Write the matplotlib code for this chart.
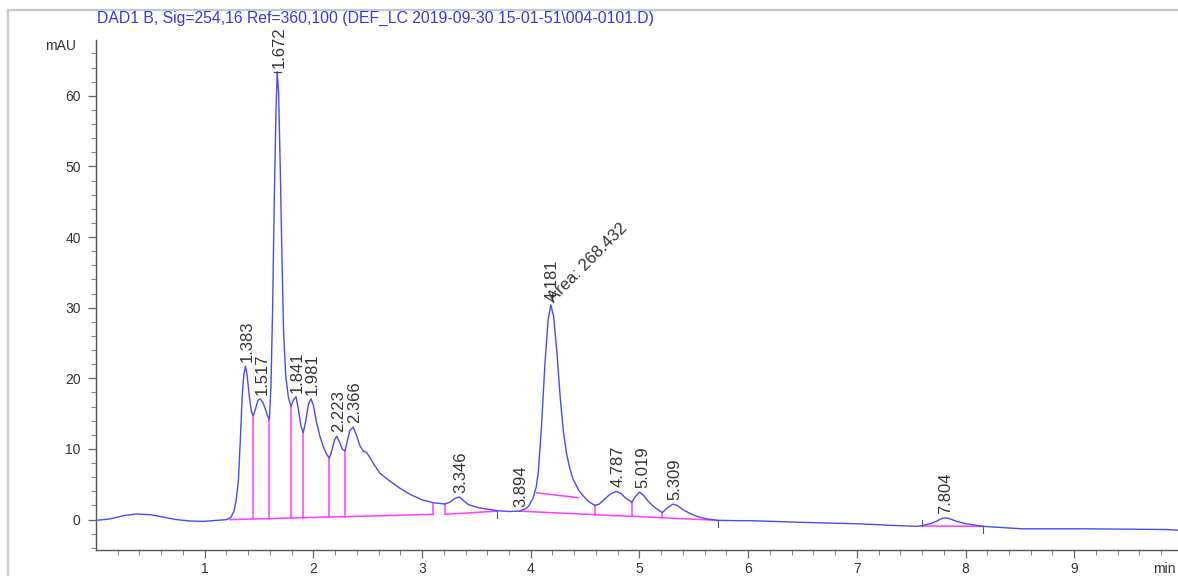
import numpy as np
import matplotlib
matplotlib.use("Agg")
import matplotlib.pyplot as plt
from matplotlib.lines import Line2D

plt.rcParams['font.family'] = ['Liberation Sans', 'DejaVu Sans']

# ---------------- data ----------------
title = "DAD1 B, Sig=254,16 Ref=360,100 (DEF_LC 2019-09-30 15-01-51\\004-0101.D)"

time_min = [0.00, 0.13, 0.25, 0.37, 0.50, 0.62, 0.74, 0.87, 0.99, 1.11, 1.20, 1.24, 1.27, 1.29, 1.31,
            1.33, 1.345, 1.36, 1.375, 1.39, 1.41, 1.43, 1.447, 1.47, 1.49, 1.51, 1.535, 1.555, 1.58,
            1.595, 1.61, 1.625, 1.64, 1.655, 1.667, 1.68, 1.695, 1.71, 1.725, 1.745, 1.77, 1.794,
            1.815, 1.84, 1.86, 1.885, 1.907, 1.93, 1.955, 1.978, 2.00, 2.03, 2.06, 2.09, 2.12, 2.147,
            2.17, 2.195, 2.215, 2.24, 2.265, 2.29, 2.31, 2.335, 2.367, 2.40, 2.43, 2.46, 2.49, 2.52,
            2.55, 2.61, 2.70, 2.80, 2.90, 3.00, 3.10, 3.21, 3.26, 3.30, 3.343, 3.38, 3.43, 3.53,
            3.69, 3.80, 3.894, 3.95, 3.98, 4.02, 4.05, 4.07, 4.10, 4.13, 4.16, 4.185, 4.21, 4.24,
            4.27, 4.30, 4.33, 4.36, 4.39, 4.44, 4.48, 4.53, 4.59, 4.63, 4.68, 4.73, 4.787, 4.83,
            4.87, 4.93, 4.96, 5.00, 5.04, 5.08, 5.12, 5.16, 5.21, 5.26, 5.309, 5.35, 5.40, 5.45,
            5.49, 5.55, 5.62, 5.72, 5.92, 6.02, 6.48, 7.03, 7.30, 7.55, 7.60, 7.68, 7.73, 7.78,
            7.81, 7.85, 7.92, 8.01, 8.16, 8.52, 9.08, 9.50, 9.85, 9.96]
signal_mau = [-0.1, 0.1, 0.55, 0.8, 0.7, 0.35, 0.0, -0.2, -0.25, -0.1, 0.0, 0.3, 1.2, 2.8, 5.5,
              12.0, 17.5, 20.5, 21.7, 20.5, 17.5, 15.3, 14.7, 15.8, 16.9, 17.1, 16.6, 15.8, 14.6,
              14.2, 19.0, 30.0, 45.0, 57.0, 63.4, 60.5, 50.0, 38.0, 27.0, 20.5, 17.3, 16.0,
              16.9, 17.4, 15.8, 13.3, 12.3, 14.0, 16.4, 17.1, 16.2, 13.7, 11.8, 10.4, 9.3, 8.7,
              9.8, 11.3, 11.8, 11.0, 10.0, 9.7, 11.0, 12.6, 13.1, 11.8, 10.4, 9.7, 9.5, 8.8,
              8.0, 6.6, 5.5, 4.4, 3.5, 2.8, 2.4, 2.2, 2.5, 3.0, 3.2, 2.7, 2.1, 1.65,
              1.27, 1.15, 1.2, 1.5, 1.9, 3.0, 4.6, 6.8, 13.5, 22.0, 28.3, 30.4, 28.8, 23.8,
              17.5, 12.5, 9.3, 7.2, 5.7, 4.2, 3.4, 2.6, 2.0, 2.2, 2.9, 3.6, 4.0, 3.7,
              3.1, 2.45, 3.2, 3.9, 3.4, 2.6, 2.0, 1.5, 1.0, 1.7, 2.2, 2.0, 1.4, 1.0,
              0.7, 0.35, 0.1, -0.1, -0.15, -0.15, -0.38, -0.6, -0.8, -0.95, -0.85, -0.55, -0.25, 0.15,
              0.25, 0.15, -0.25, -0.6, -0.95, -1.3, -1.3, -1.35, -1.4, -1.5]

peak_labels = ["1.383", "1.517", "1.672", "1.841", "1.981", "2.223", "2.366", "3.346",
               "3.894", "4.181", "4.787", "5.019", "5.309", "7.804"]
peak_times = [1.383, 1.517, 1.672, 1.841, 1.981, 2.223, 2.366, 3.346,
              3.894, 4.181, 4.787, 5.019, 5.309, 7.804]
peak_heights = [21.7, 17.1, 63.4, 17.4, 17.1, 11.8, 13.1, 3.2,
                1.2, 30.4, 4.0, 3.9, 2.2, 0.25]
area_label = "Area: 268.432"

# integration baselines (start time, start mAU, end time, end mAU)
baseline_t0 = [1.23, 3.21, 3.894, 7.60]
baseline_y0 = [0.0, 0.75, 1.2, -0.9]
baseline_t1 = [3.10, 3.69, 5.72, 8.16]
baseline_y1 = [0.75, 1.2, -0.1, -0.95]
# tangent baseline used for the 4.181 area peak
area_base_t = [4.054, 4.44]
area_base_y = [3.8, 3.1]
# drop lines (time, index of baseline)
drop_times = [1.447, 1.595, 1.794, 1.907, 2.147, 2.29, 3.10, 3.21, 4.59, 4.93, 5.21]
drop_base = [0, 0, 0, 0, 0, 0, 0, 1, 2, 2, 2]
# small tick marks at baseline ends (time, mAU, direction)
end_tick_t = [3.69, 5.72, 7.60, 8.16]
end_tick_y = [1.2, -0.1, -0.9, -0.95]
end_tick_dir = [-1, -1, 1, -1]

y_major = [0, 10, 20, 30, 40, 50, 60]
x_major = [1, 2, 3, 4, 5, 6, 7, 8, 9]

# ---------------- figure ----------------
W, H = 1178, 576
fig = plt.figure(figsize=(W / 100, H / 100), dpi=100)
ax = fig.add_axes([96 / W, 1 - 550 / H, (W - 96) / W, 510 / H])
ax.set_xlim(0, 9.955)
ax.set_ylim(-4.3, 67.9)

blue = '#4a4af2'
magenta = '#ff3cff'
txtc = '#333333'

t = np.array(time_min)
s = np.array(signal_mau)

# baselines
for i in range(len(baseline_t0)):
    ax.plot([baseline_t0[i], baseline_t1[i]], [baseline_y0[i], baseline_y1[i]],
            color=magenta, lw=1.1, zorder=2)
ax.plot(area_base_t, area_base_y, color=magenta, lw=1.1, zorder=2)

for dt, bi in zip(drop_times, drop_base):
    yb = np.interp(dt, [baseline_t0[bi], baseline_t1[bi]], [baseline_y0[bi], baseline_y1[bi]])
    yt = np.interp(dt, t, s)
    ax.plot([dt, dt], [yb, yt], color=magenta, lw=1.1, zorder=2)

for et, ey, ed in zip(end_tick_t, end_tick_y, end_tick_dir):
    ax.plot([et, et], [ey, ey + ed * 0.9], color='#555555', lw=0.8, zorder=3)

# trace
ax.plot(t, s, color=blue, lw=1.0, zorder=3)

# apex mark on the big peak
ax.plot([peak_times[2] - 0.03, peak_times[2] + 0.03], [peak_heights[2]] * 2, color='#333399', lw=0.9, zorder=4)

# peak labels
for lab, pt, ph in zip(peak_labels, peak_times, peak_heights):
    ax.annotate(lab, (pt, ph), xytext=(1, 3), textcoords='offset points',
                rotation=90, ha='center', va='bottom', fontsize=12, color=txtc,
                annotation_clip=False, zorder=5)
ax.annotate(area_label, (peak_times[9], peak_heights[9]), xytext=(4, 0), textcoords='offset points',
            rotation=45, rotation_mode='anchor', ha='left', va='bottom', fontsize=12, color=txtc,
            annotation_clip=False, zorder=5)

# axes styling
for sp in ['top', 'right']:
    ax.spines[sp].set_visible(False)
for sp in ['left', 'bottom']:
    ax.spines[sp].set_color('#555555')
    ax.spines[sp].set_linewidth(1.0)

ax.set_yticks(y_major)
ax.set_yticks(np.arange(-4, 67, 2), minor=True)
ax.set_xticks(x_major)
ax.set_xticks(np.arange(0.2, 9.95, 0.2), minor=True)
ax.tick_params(which='major', length=6, width=0.9, color='#666666', labelsize=10,
               labelcolor=txtc, pad=5)
ax.tick_params(axis='x', which='major', pad=2.5)
ax.tick_params(which='minor', length=3.5, width=0.8, color='#888888')

fig.text(45 / W, 1 - 46 / H, "mAU", ha='left', va='center', fontsize=10, color=txtc)
fig.text(1176 / W, 1 - 569 / H, "min", ha='right', va='center', fontsize=10, color=txtc)
fig.text(97 / W, 1 - 18 / H, title, ha='left', va='center', fontsize=11.3, color='#3535e8')

# outer frame
fig.add_artist(Line2D([8 / W, 1.0], [1 - 10 / H] * 2, transform=fig.transFigure, color='#c8c8c8', lw=1.6))
fig.add_artist(Line2D([8 / W] * 2, [0, 1 - 10 / H], transform=fig.transFigure, color='#c8c8c8', lw=1.6))

fig.savefig("out.png", dpi=100)
